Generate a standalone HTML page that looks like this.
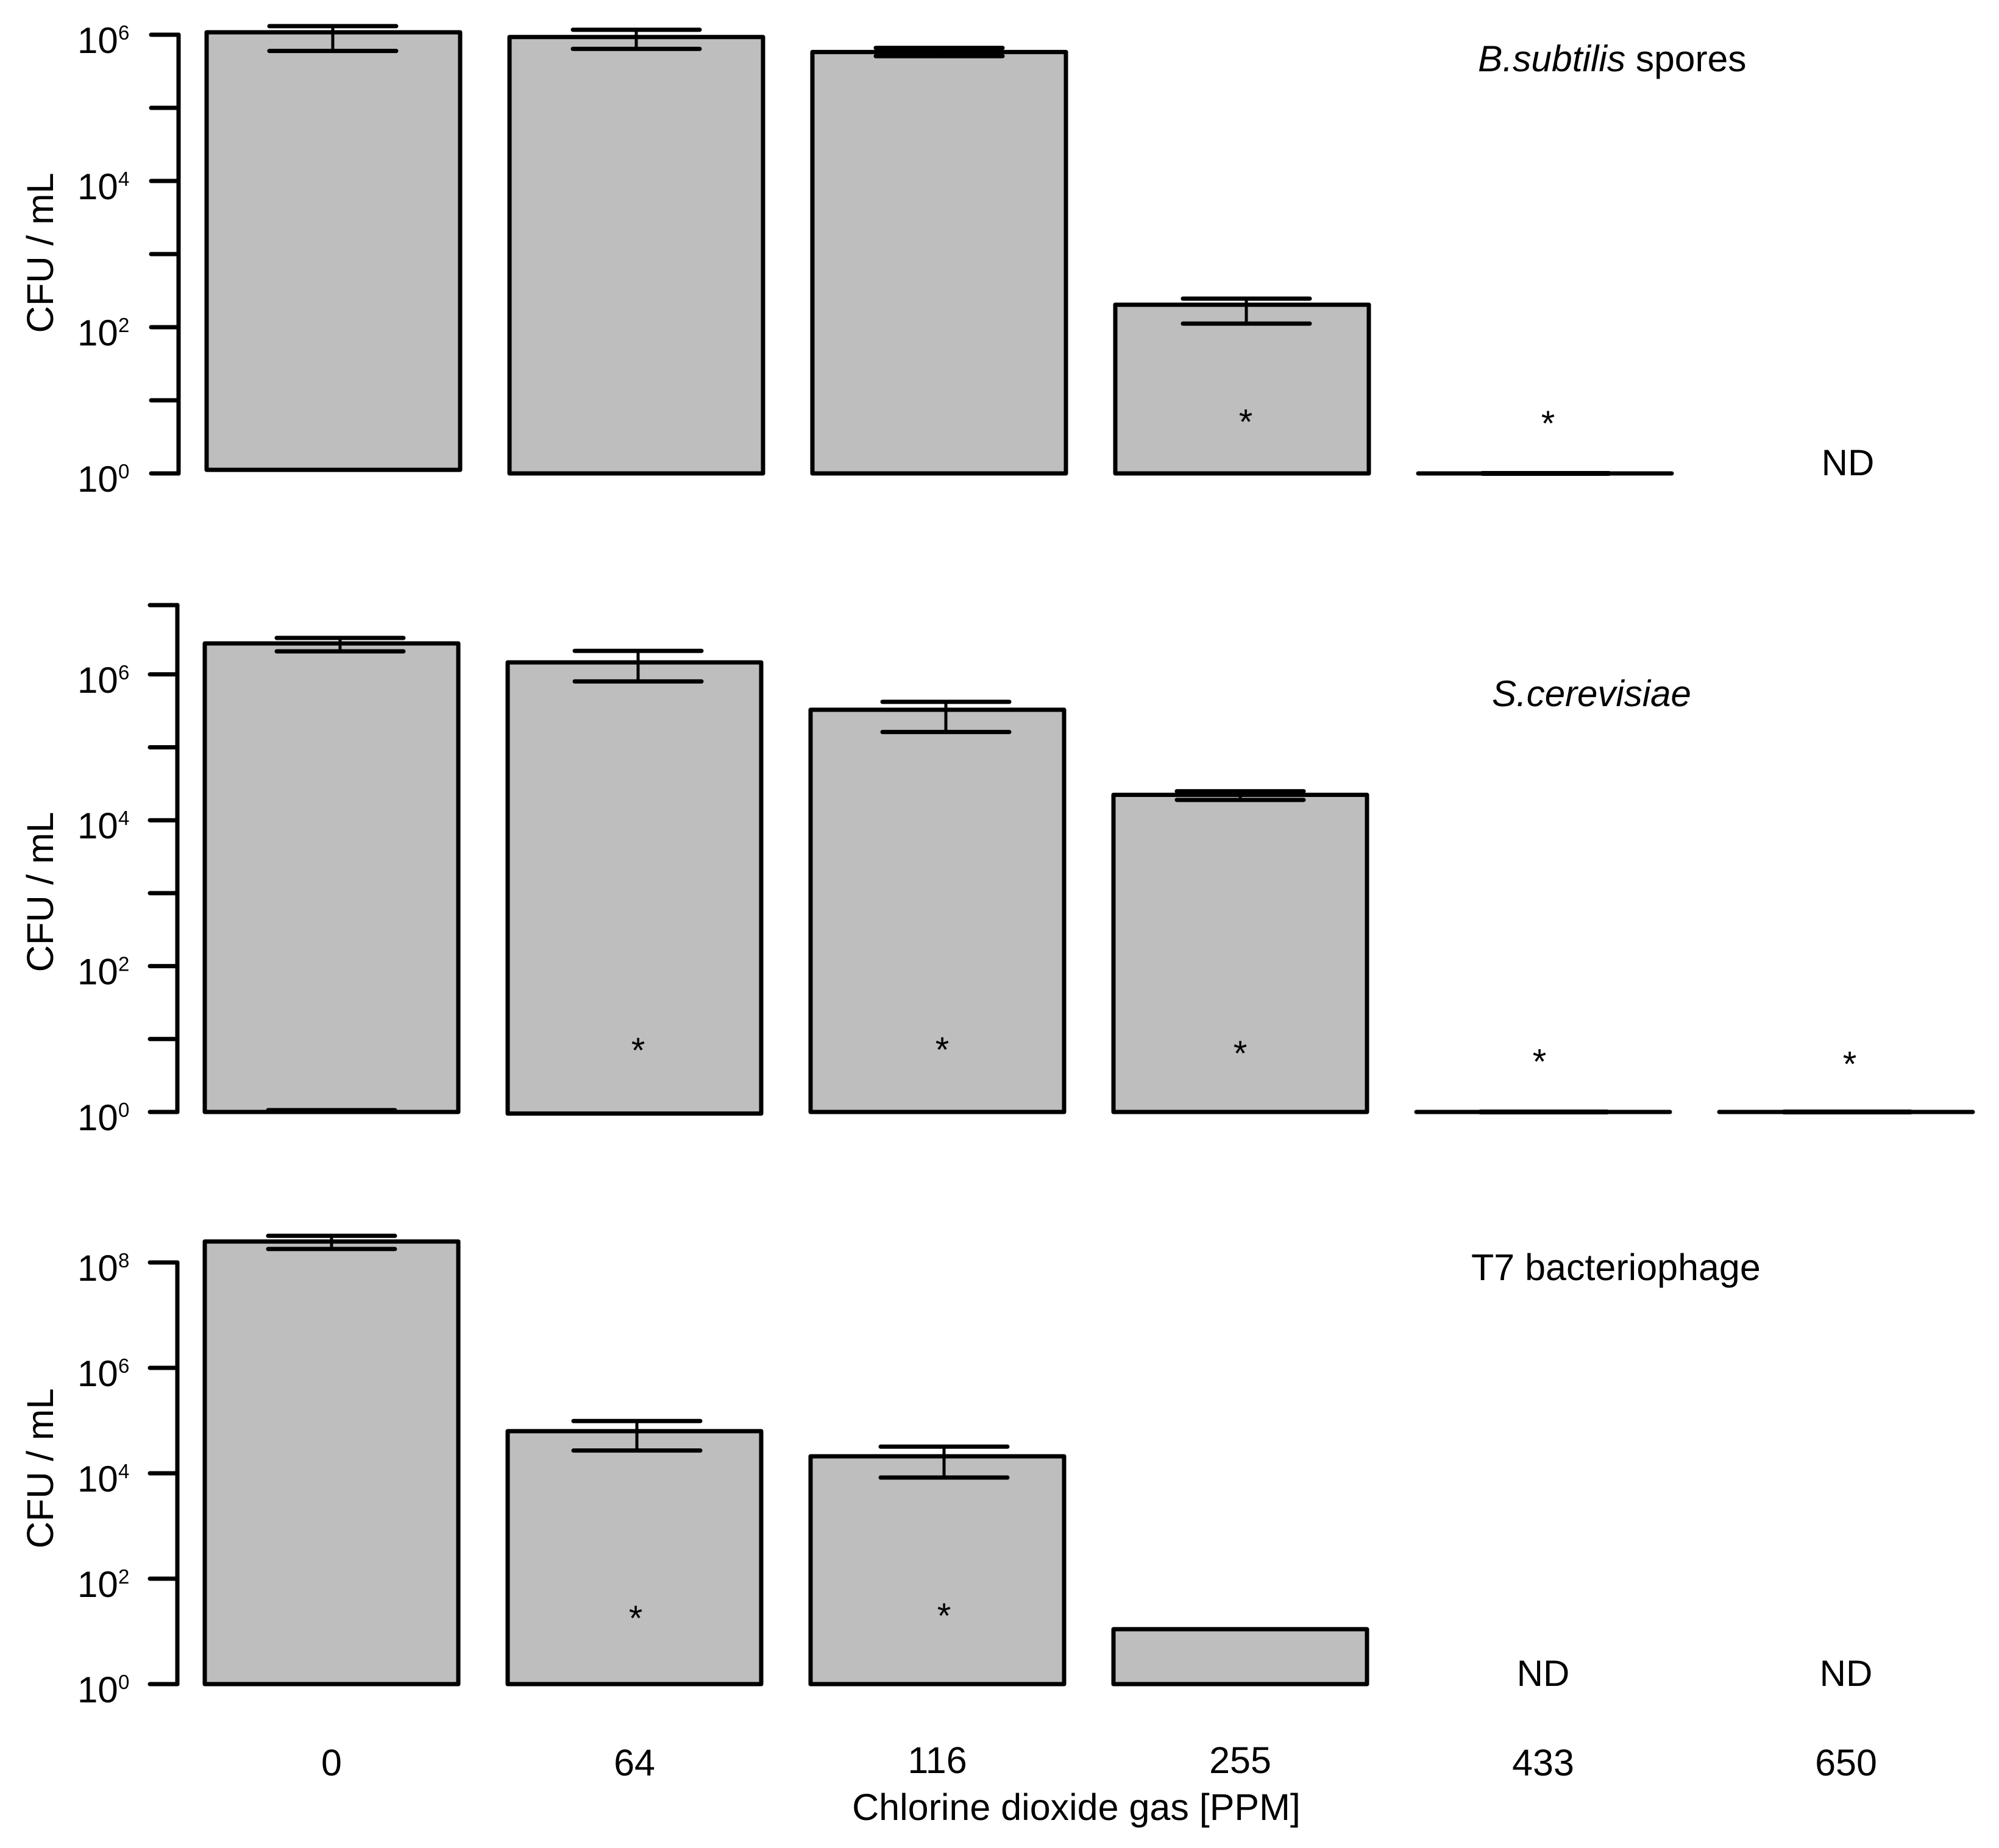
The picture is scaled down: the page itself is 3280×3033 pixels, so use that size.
<!DOCTYPE html>
<html lang="en">
<head>
<meta charset="utf-8">
<title>Chlorine dioxide gas inactivation</title>
<style>
html,body{margin:0;padding:0;background:#fff;width:3280px;height:3033px;overflow:hidden}
svg{display:block}
text{font-family:"Liberation Sans",Arial,sans-serif;fill:#000}
</style>
</head>
<body>
<svg id="chart" xmlns="http://www.w3.org/2000/svg" width="3280" height="3033" viewBox="0 0 3280 3033"></svg>
<script>
// ---- data ----
const doses = ['0', '64', '116', '255', '433', '650'];

const subtilisValues = [1.08e6, 9.3e5, 5.8e5, 203, 1, null];
const subtilisBases  = [1.12, 1, 1, 1, 1, null];
const subtilisUpper  = [1.31e6, 1.17e6, 6.6e5, 246, 1.01, null];
const subtilisLower  = [6.0e5, 6.4e5, 5.1e5, 112, 0.99, null];
const subtilisBaseCap = [null, null, null, null, null, null];
const subtilisStars  = [null, null, null, 5.7, 5.4, null];
const subtilisND     = [false, false, false, false, false, true];
const subtilisTicks  = [1, 10, 100, 1000, 1e4, 1e5, 1e6];
const subtilisTickExp = ['0', null, '2', null, '4', null, '6'];

const cerevisiaeValues = [2.66e6, 1.46e6, 3.27e5, 2.23e4, 1, 1];
const cerevisiaeBases  = [1, 0.95, 1, 1, 1, 1];
const cerevisiaeUpper  = [3.16e6, 2.1e6, 4.2e5, 2.5e4, 1.01, 1.01];
const cerevisiaeLower  = [2.07e6, 8.0e5, 1.62e5, 1.9e4, 0.99, 0.99];
const cerevisiaeBaseCap = [1.06, null, null, null, null, null];
const cerevisiaeStars  = [null, 7.8, 8, 7.1, 5.5, 5.1];
const cerevisiaeND     = [false, false, false, false, false, false];
const cerevisiaeTicks  = [1, 10, 100, 1000, 1e4, 1e5, 1e6, 8.9e6];
const cerevisiaeTickExp = ['0', null, '2', null, '4', null, '6', null];

const phageValues = [2.5e8, 6.3e4, 2.1e4, 11, null, null];
const phageBases  = [1, 1, 1, 1, null, null];
const phageUpper  = [3.2e8, 9.8e4, 3.2e4, null, null, null];
const phageLower  = [1.8e8, 2.7e4, 8300, null, null, null];
const phageBaseCap = [null, null, null, null, null, null];
const phageStars  = [null, 20.8, 23, null, null, null];
const phageND     = [false, false, false, false, true, true];
const phageTicks  = [1, 100, 1e4, 1e6, 1e8];
const phageTickExp = ['0', '2', '4', '6', '8'];

// ---- layout ----
const NS = 'http://www.w3.org/2000/svg';
const svg = document.getElementById('chart');
const STROKE = 7;
const BAR_W = 416;
const STEP = 497;
const CAP_HALF = 104;

function make(tag, attrs, name, parent) {
  const el = document.createElementNS(NS, tag);
  for (const k in attrs) el.setAttribute(k, attrs[k]);
  
  
  (parent || svg).appendChild(el);
  return el;
}

function line(x1, y1, x2, y2, name, parent, sw) {
  return make('line', {x1: x1, y1: y1, x2: x2, y2: y2, stroke: '#000', 'stroke-width': sw || STROKE, 'stroke-linecap': 'round'}, name, parent);
}

function drawPanel(p) {
  const g = make('g', {}, p.key + '-panel');
  const xPos = i => p.x0 + i * STEP;
  const yPos = v => p.y0 - p.decade * Math.log10(v);

  // y axis
  const axis = make('g', {}, p.key + '-y-axis', g);
  const tickYs = p.ticks.map(yPos);
  line(p.axisX, Math.max.apply(null, tickYs), p.axisX, Math.min.apply(null, tickYs), p.key + '-y-axis-line', axis);
  p.ticks.forEach((t, i) => {
    const y = yPos(t);
    line(p.axisX - 45, y, p.axisX, y, p.key + '-y-tick', axis);
    if (p.tickExp[i] !== null) {
      const label = make('text', {x: 127, y: y + 30, 'font-size': 60}, p.key + '-y-tick-label', axis);
      label.appendChild(document.createTextNode('10'));
      const sup = make('tspan', {x: 194, y: y + 8, 'font-size': 33}, p.key + '-y-tick-exponent', label);
      sup.textContent = p.tickExp[i];
    }
  });

  // y axis title
  const yt = make('text', {x: 0, y: 0, 'font-size': 61.5, 'text-anchor': 'middle', transform: 'translate(87 ' + p.yTitleY + ') rotate(-90)'}, p.key + '-y-axis-title', g);
  yt.textContent = 'CFU / mL';

  // bars (path so a zero-height bar still strokes as a line)
  p.values.forEach((v, i) => {
    if (v === null) return;
    const top = yPos(v), bot = yPos(p.bases[i]);
    const d = 'M' + xPos(i) + ' ' + top + 'H' + (xPos(i) + BAR_W) + 'V' + bot + 'H' + xPos(i) + 'Z';
    make('path', {d: d, fill: '#bebebe', stroke: '#000', 'stroke-width': STROKE, 'stroke-linejoin': 'round'}, 'bar-' + p.key + '-' + doses[i], g);
  });

  // error bars
  p.upper.forEach((u, i) => {
    if (u === null) return;
    const cx = xPos(i) + BAR_W / 2 + p.nudge[i];
    const yu = yPos(u), yl = yPos(p.lower[i]);
    const eb = make('g', {}, 'error-bar-' + p.key + '-' + doses[i], g);
    line(cx, yu, cx, yl, 'error-bar-stem', eb, 5);
    line(cx - CAP_HALF, yu, cx + CAP_HALF, yu, 'error-bar-upper-cap', eb);
    line(cx - CAP_HALF, yl, cx + CAP_HALF, yl, 'error-bar-lower-cap', eb);
  });

  // caps sitting on a bar's base
  p.baseCap.forEach((c, i) => {
    if (c === null) return;
    const cx = xPos(i) + BAR_W / 2;
    line(cx - CAP_HALF, yPos(c), cx + CAP_HALF, yPos(c), 'base-cap-' + p.key + '-' + doses[i], g);
  });

  // significance stars
  p.stars.forEach((s, i) => {
    if (s === null) return;
    const st = make('text', {x: xPos(i) + BAR_W / 2 + p.starNudge[i], y: yPos(s) + 26, 'font-size': 58, 'text-anchor': 'middle'}, 'significance-star-' + p.key + '-' + doses[i], g);
    st.textContent = '*';
  });

  // not detected
  p.nd.forEach((n, i) => {
    if (!n) return;
    const t = make('text', {x: xPos(i) + BAR_W / 2, y: p.y0 + 3, 'font-size': 60, 'text-anchor': 'middle'}, 'not-detected-' + p.key + '-' + doses[i], g);
    t.textContent = 'ND';
  });

  // panel title
  const title = make('text', {x: p.titleX, y: p.titleY, 'font-size': p.titleSize}, p.key + '-title', g);
  if (p.italic) {
    const it = make('tspan', {'font-style': 'italic'}, p.key + '-title-organism', title);
    it.textContent = p.italic;
  }
  if (p.plain) {
    title.appendChild(document.createTextNode(p.plain));
  }
}

drawPanel({key: 'subtilis', x0: 339, y0: 777, decade: 120, axisX: 293, yTitleY: 415,
  values: subtilisValues, bases: subtilisBases, upper: subtilisUpper, lower: subtilisLower, baseCap: subtilisBaseCap,
  stars: subtilisStars, nd: subtilisND, ticks: subtilisTicks, tickExp: subtilisTickExp,
  nudge: [-1, 0, 0, 7, 1, 0], starNudge: [0, 0, 0, 6, 5, 0], titleX: 2425, titleY: 117, titleSize: 60.5, italic: 'B.subtilis', plain: ' spores'});

drawPanel({key: 'cerevisiae', x0: 336, y0: 1825, decade: 119.7, axisX: 291, yTitleY: 1464,
  values: cerevisiaeValues, bases: cerevisiaeBases, upper: cerevisiaeUpper, lower: cerevisiaeLower, baseCap: cerevisiaeBaseCap,
  stars: cerevisiaeStars, nd: cerevisiaeND, ticks: cerevisiaeTicks, tickExp: cerevisiaeTickExp,
  nudge: [14, 6, 14, 0, 1, 2], starNudge: [0, 6, 8, 0, -6, 6], titleX: 2448, titleY: 1159, titleSize: 60, italic: 'S.cerevisiae', plain: ''});

drawPanel({key: 'phage', x0: 336, y0: 2764, decade: 86.5, axisX: 291, yTitleY: 2410,
  values: phageValues, bases: phageBases, upper: phageUpper, lower: phageLower, baseCap: phageBaseCap,
  stars: phageStars, nd: phageND, ticks: phageTicks, tickExp: phageTickExp,
  nudge: [0, 4, 11, 0, 0, 0], starNudge: [0, 2, 11, 0, 0, 0], titleX: 2414, titleY: 2101, titleSize: 61, italic: '', plain: 'T7 bacteriophage'});

// x axis labels
const xLabelRaise = [0, 0, 4, 4, 0, 0];
const xLabels = make('g', {}, 'x-axis-labels');
doses.forEach((d, i) => {
  const t = make('text', {x: 336 + i * STEP + BAR_W / 2, y: 2914 - xLabelRaise[i], 'font-size': 61, 'text-anchor': 'middle'}, 'x-tick-label-' + d, xLabels);
  t.textContent = d;
});
const xTitle = make('text', {x: 1766, y: 2987, 'font-size': 61, 'text-anchor': 'middle'}, 'x-axis-title');
xTitle.textContent = 'Chlorine dioxide gas [PPM]';
</script>
</body>
</html>
